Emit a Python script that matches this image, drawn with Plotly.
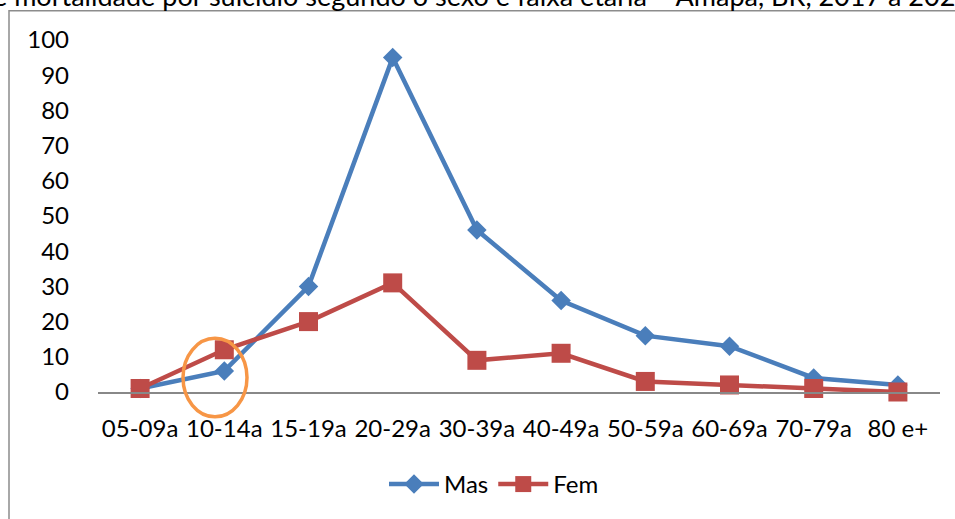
import plotly.graph_objects as go

categories = ["05-09a", "10-14a", "15-19a", "20-29a", "30-39a", "40-49a", "50-59a", "60-69a", "70-79a", "80 e+"]
mas = [1, 6, 30, 95, 46, 26, 16, 13, 4, 2]
fem = [1, 12, 20, 31, 9, 11, 3, 2, 1, 0]
y_ticks = [0, 10, 20, 30, 40, 50, 60, 70, 80, 90, 100]
title_text = "Gráfico 3. Taxa de mortalidade por suicídio segundo o sexo e faixa etária – Amapá, BR, 2017 a 2021"

FONT = "Lato"
W, H = 955, 519
L, R, T, B = 98, 15, 40, 125
pw, ph = W - L - R, H - T - B

def px_x(x):
    return (x - L) / pw

def px_y(y):
    return (H - B - y) / ph

fig = go.Figure()
fig.add_trace(go.Scatter(
    x=categories, y=mas, name="Mas", mode="lines+markers",
    line=dict(color="#4A7EBB", width=4.5),
    marker=dict(symbol="diamond", size=15, color="#4A7EBB"),
    cliponaxis=False,
))
fig.add_trace(go.Scatter(
    x=categories, y=fem, name="Fem", mode="lines+markers",
    line=dict(color="#BE4B48", width=4.5),
    marker=dict(symbol="square", size=19, color="#BE4B48"),
    cliponaxis=False,
))

# orange highlight ellipse around 10-14a
fig.add_shape(type="circle", xref="paper", yref="paper",
              x0=px_x(183), x1=px_x(247), y0=px_y(419), y1=px_y(340),
              line=dict(color="#F79646", width=3.5), layer="above")

# outer chart border
fig.add_shape(type="rect", xref="paper", yref="paper",
              x0=px_x(9), x1=px_x(1000), y0=px_y(10.5), y1=px_y(600),
              line=dict(color="#8C8C8C", width=1.5), layer="above")

# clipped title at top
fig.add_annotation(text=title_text, xref="paper", yref="paper",
                   x=px_x(-205), y=1, xanchor="left", yanchor="bottom",
                   yshift=T - 14, showarrow=False,
                   font=dict(family=FONT, size=27, color="#000000"))

fig.update_layout(
    width=W, height=H,
    margin=dict(l=L, r=R, t=T, b=B),
    paper_bgcolor="white", plot_bgcolor="white",
    font=dict(family=FONT, size=24, color="#000000"),
    showlegend=True,
    legend=dict(orientation="h", x=px_x(494), xanchor="center",
                y=px_y(487), yanchor="middle",
                font=dict(family=FONT, size=24), itemwidth=50,
                tracegroupgap=0,
                bgcolor="rgba(0,0,0,0)"),
    xaxis=dict(type="category", range=[-0.5, 9.5], showgrid=False,
               showline=True, linecolor="#888888", linewidth=1.5,
               ticks="", ticklabelstandoff=14, zeroline=False,
               tickfont=dict(family=FONT, size=24)),
    yaxis=dict(range=[0, 100], tickvals=y_ticks, showgrid=False,
               showline=False, zeroline=False, ticks="",
               ticklabelstandoff=28,
               tickfont=dict(family=FONT, size=24)),
)

fig.write_html("out.html", config={"displayModeBar": False},
               post_script="document.body.style.margin='0';document.body.style.overflow='hidden';")
